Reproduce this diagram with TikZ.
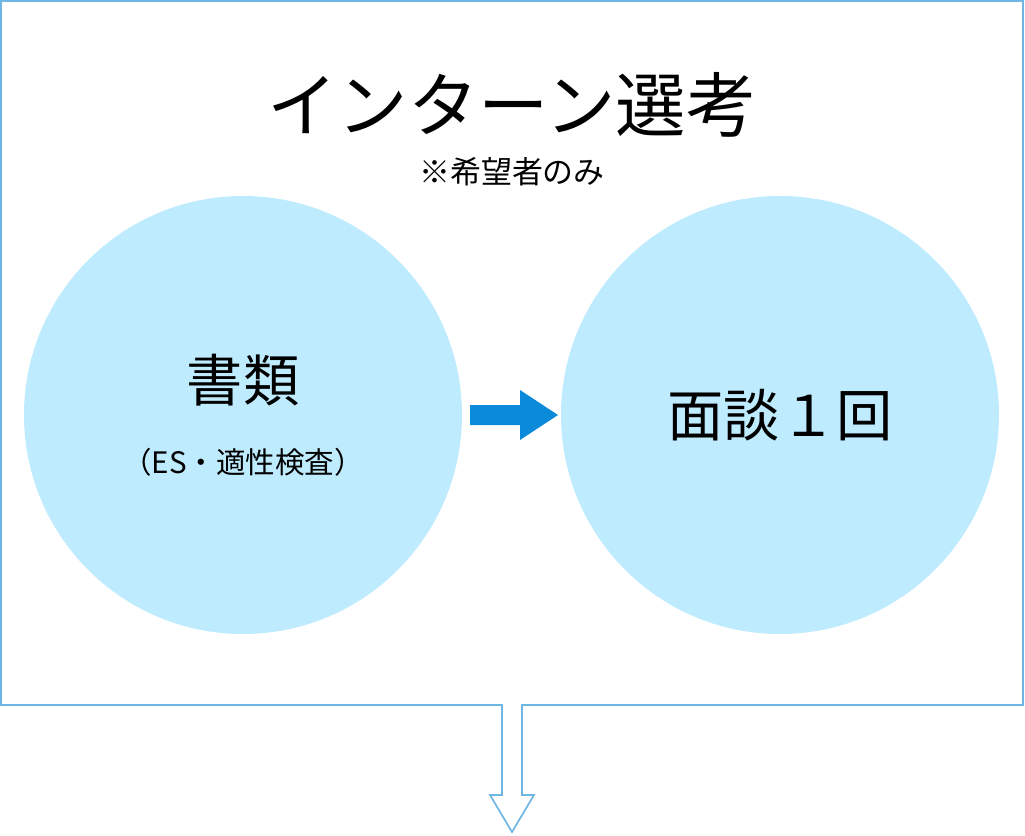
\documentclass[tikz,border=0pt]{standalone}
\usepackage{fontspec}
\usepackage{xcolor}
\usetikzlibrary{positioning}
\newfontfamily\jpfont{Noto Sans CJK JP}
\definecolor{framecol}{HTML}{6FB6E2}
\definecolor{circlecol}{HTML}{BEEBFD}
\definecolor{arrowblue}{HTML}{0A8AD8}

\begin{document}
\begin{tikzpicture}[x=0.025cm, y=-0.025cm,
  stage/.style={circle, fill=circlecol, minimum size=438*0.025cm, inner sep=0pt},
  label/.style={font=\jpfont, text=black, inner sep=0pt}
]
  \useasboundingbox (0,0) rectangle (1025,835);

  % Frame with outlet arrow
  \coordinate (outlet) at (512,832);
  \draw[framecol, line width=1.2pt, line join=miter]
    (502,705) -- (1,705) -- (1,1) -- (1023,1) -- (1023,705) -- (522,705)
    -- (522,795) -- (534,795) -- (outlet) -- (490,795) -- (502,795) -- cycle;

  % Title
  \node[label, font=\jpfont\fontsize{50}{56}\selectfont] (title) at (512,105) {インターン選考};
  \node[label, font=\jpfont\fontsize{22}{26}\selectfont] (note) at (512,172) {※希望者のみ};

  % Stages
  \node[stage] (docs) at (243,415) {};
  \node[stage] (interview) at (780,415) {};
  \node[label, font=\jpfont\fontsize{40}{46}\selectfont] (docstext) at (243,380) {書類};
  \node[label, font=\jpfont\fontsize{21}{26}\selectfont] (docssub) at (243,462) {（ES・適性検査）};
  \node[label, font=\jpfont\fontsize{40}{46}\selectfont] (intext) at (780,415) {面談１回};

  % Step arrow
  \fill[arrowblue] (470,405) -- (520,405) -- (520,390) -- (558,415)
    -- (520,440) -- (520,425) -- (470,425) -- cycle;
\end{tikzpicture}
\end{document}
